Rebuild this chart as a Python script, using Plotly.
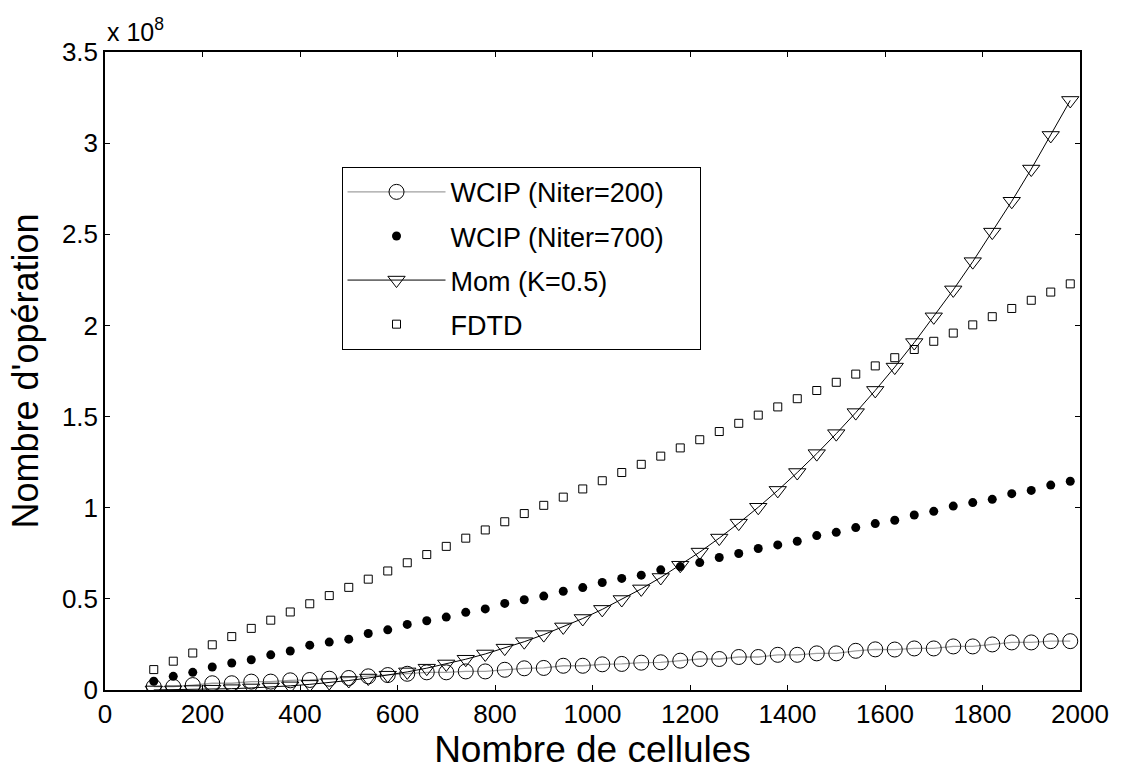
import plotly.graph_objects as go

# Number of cells (x axis)
cells = [100, 140, 180, 220, 260, 300, 340, 380, 420, 460,
         500, 540, 580, 620, 660, 700, 740, 780, 820, 860,
         900, 940, 980, 1020, 1060, 1100, 1140, 1180, 1220, 1260,
         1300, 1340, 1380, 1420, 1460, 1500, 1540, 1580, 1620, 1660,
         1700, 1740, 1780, 1820, 1860, 1900, 1940, 1980]

# Number of operations, in units of 1e8
wcip_200 = [0.018, 0.018, 0.027, 0.037, 0.037, 0.046, 0.046, 0.053, 0.055, 0.062,
            0.066, 0.075, 0.082, 0.089, 0.097, 0.097, 0.102, 0.102, 0.111, 0.119,
            0.121, 0.133, 0.133, 0.141, 0.143, 0.150, 0.152, 0.161, 0.170, 0.170,
            0.181, 0.181, 0.193, 0.193, 0.201, 0.201, 0.215, 0.223, 0.222, 0.228,
            0.228, 0.239, 0.239, 0.250, 0.261, 0.261, 0.268, 0.268]

wcip_700 = [0.048, 0.075, 0.097, 0.126, 0.148, 0.166, 0.193, 0.214, 0.246, 0.263,
            0.279, 0.310, 0.330, 0.360, 0.380, 0.400, 0.426, 0.445, 0.475, 0.495,
            0.515, 0.542, 0.562, 0.590, 0.612, 0.630, 0.659, 0.677, 0.699, 0.727,
            0.749, 0.776, 0.796, 0.816, 0.847, 0.865, 0.891, 0.913, 0.931, 0.960,
            0.980, 1.009, 1.028, 1.046, 1.077, 1.095, 1.124, 1.145]

mom = [0.0004, 0.0011, 0.0024, 0.0044, 0.0073, 0.0113, 0.0164, 0.0229, 0.0309, 0.0406,
       0.0521, 0.0656, 0.0813, 0.0993, 0.1198, 0.1429, 0.1688, 0.1977, 0.2297, 0.2650,
       0.3038, 0.3461, 0.3922, 0.4422, 0.4963, 0.5546, 0.6173, 0.6846, 0.7566, 0.8335,
       0.9154, 1.0025, 1.0950, 1.1930, 1.2967, 1.4063, 1.5218, 1.6435, 1.7715, 1.9060,
       2.0471, 2.1950, 2.3499, 2.5119, 2.6812, 2.8579, 3.0422, 3.2343]

fdtd = [0.112, 0.158, 0.203, 0.248, 0.293, 0.338, 0.383, 0.428, 0.473, 0.518,
        0.563, 0.608, 0.653, 0.698, 0.743, 0.788, 0.833, 0.878, 0.923, 0.968,
        1.013, 1.058, 1.103, 1.148, 1.193, 1.238, 1.283, 1.328, 1.373, 1.418,
        1.463, 1.508, 1.553, 1.598, 1.643, 1.688, 1.733, 1.778, 1.823, 1.868,
        1.913, 1.958, 2.003, 2.048, 2.093, 2.138, 2.183, 2.228]

series_names = ["WCIP (Niter=200)", "WCIP (Niter=700)", "Mom (K=0.5)", "FDTD"]
x_ticks = [0, 200, 400, 600, 800, 1000, 1200, 1400, 1600, 1800, 2000]
y_ticks = [0, 0.5, 1, 1.5, 2, 2.5, 3, 3.5]

FONT = "Liberation Sans, Arial, sans-serif"
PAD = "\u00a0" * 4  # extra room on the right of the legend entries

fig = go.Figure()
fig.add_trace(go.Scatter(
    x=cells, y=wcip_200, name=series_names[0] + PAD, legendgroup="a",
    mode="lines+markers",
    line=dict(color="#a0a0a0", width=1.3),
    marker=dict(symbol="circle-open", size=15, color="black", line=dict(width=1)),
))
fig.add_trace(go.Scatter(
    x=cells, y=wcip_700, name=series_names[1] + PAD, legendgroup="b",
    mode="markers",
    marker=dict(symbol="circle", size=9, color="black"),
))
fig.add_trace(go.Scatter(
    x=cells, y=mom, name=series_names[2] + PAD, legendgroup="c",
    mode="lines+markers",
    line=dict(color="black", width=1),
    marker=dict(symbol="triangle-down-open", size=15, color="black", line=dict(width=1)),
))
fig.add_trace(go.Scatter(
    x=cells, y=fdtd, name=series_names[3] + PAD, legendgroup="d",
    mode="markers",
    marker=dict(symbol="square-open", size=8, color="black", line=dict(width=1)),
))

axis_common = dict(
    showline=True, linecolor="black", linewidth=1.5, mirror="ticks",
    ticks="inside", ticklen=5, tickwidth=1, tickcolor="black",
    showgrid=False, zeroline=False,
    tickfont=dict(family=FONT, size=26, color="black"),
)

fig.update_xaxes(
    range=[0, 2000], tickvals=x_ticks,
    title=dict(text="Nombre de cellules", font=dict(family=FONT, size=37, color="black"), standoff=6),
    **axis_common,
)
fig.update_yaxes(
    range=[0, 3.5], tickvals=y_ticks,
    title=dict(text="Nombre d'opération", font=dict(family=FONT, size=36, color="black"), standoff=12),
    **axis_common,
)

fig.add_annotation(
    x=0, y=1, xref="paper", yref="paper", xanchor="left", yanchor="bottom",
    text="x 10<sup>8</sup>", showarrow=False, yshift=4,
    font=dict(family=FONT, size=25, color="black"),
)

fig.update_layout(
    width=1121, height=773,
    margin=dict(l=105, r=39, t=52, b=82),
    paper_bgcolor="white", plot_bgcolor="white",
    showlegend=True,
    legend=dict(
        x=(342 - 105) / 977, y=(691 - 167) / 639, xanchor="left", yanchor="top",
        bordercolor="black", borderwidth=1, bgcolor="white",
        font=dict(family=FONT, size=27, color="black"),
        itemwidth=98, tracegroupgap=6,
    ),
)

fig.write_html("out.html")
